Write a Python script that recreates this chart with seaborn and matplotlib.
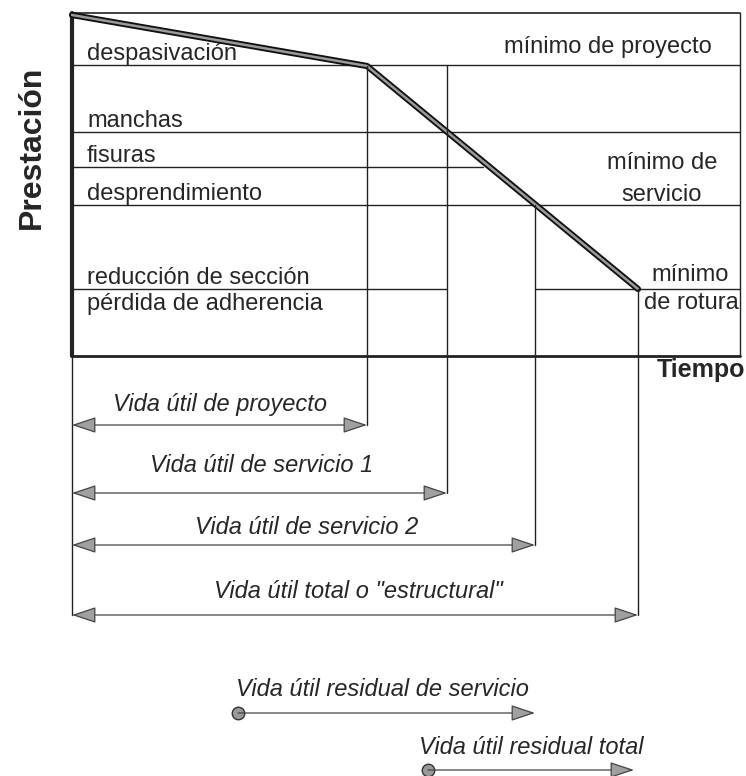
import matplotlib
matplotlib.use('Agg')
import matplotlib.pyplot as plt
import seaborn as sns

sns.set_style('white')
plt.rcParams['font.family'] = ['Liberation Sans', 'DejaVu Sans']

# curva de prestación (tiempo, prestación) en unidades del dibujo
curva_t = [72, 367, 638]
curva_p = [15, 66, 289]

# niveles de deterioro
niveles = ['despasivación', 'manchas', 'fisuras', 'desprendimiento', 'reducción de sección']
niveles_y = [65, 132, 167, 205, 289]
niveles_fin = [740, 740, 483, 740, 447]

# vidas útiles
vidas = ['Vida útil de proyecto', 'Vida útil de servicio 1',
         'Vida útil de servicio 2', 'Vida útil total o "estructural"']
vidas_fin = [367, 447, 535, 638]
vidas_inicio_v = [66, 65, 205, 289]
vidas_y = [425, 493, 545, 615]
vidas_txt_x = [220, 262, 307, 358]
vidas_txt_y = [405, 466, 527, 591]

# vidas residuales
residual = ['Vida útil residual de servicio', 'Vida útil residual total']
residual_ini = [238, 428]
residual_fin = [535, 634]
residual_y = [713, 770]
residual_txt_x = [382, 531]
residual_txt_y = [689, 747]

X0, X1, Y0, Y1 = 72, 740, 13, 356
lc = '#222222'

fig = plt.figure(figsize=(7.46, 7.76), dpi=100)
ax = fig.add_axes([0, 0, 1, 1])
ax.set_xlim(0, 746)
ax.set_ylim(776, 0)
ax.axis('off')

# marco
ax.plot([X0, X1], [Y0, Y0], color=lc, lw=1.2)
ax.plot([X0, X1], [Y1, Y1], color=lc, lw=2)
ax.plot([X1, X1], [Y0, Y1], color=lc, lw=1)
ax.plot([X0, X0], [Y0, Y1], color=lc, lw=3)
ax.plot([X0, X0], [Y1, vidas_y[-1]], color=lc, lw=1)

# niveles
for n, y, xf in zip(niveles, niveles_y, niveles_fin):
    ax.plot([X0, xf], [y, y], color=lc, lw=1)
    ax.text(87, y - 5, n, fontsize=17, va='baseline', ha='left')
ax.plot([535, X1], [289, 289], color=lc, lw=1)
ax.text(87, 293, 'pérdida de adherencia', fontsize=17, va='top', ha='left')

# mínimos
ax.text(712, 47, 'mínimo de proyecto', fontsize=17, ha='right', va='center')
ax.text(662, 163, 'mínimo de', fontsize=17, ha='center', va='center')
ax.text(662, 195, 'servicio', fontsize=17, ha='center', va='center')
ax.text(690, 275, 'mínimo', fontsize=17, ha='center', va='center')
ax.text(691, 303, 'de rotura', fontsize=17, ha='center', va='center')

# curva
sns.lineplot(x=curva_t, y=curva_p, ax=ax, color='#111111', lw=4.5, sort=False)
sns.lineplot(x=curva_t, y=curva_p, ax=ax, color='#9a9a9a', lw=1.8, sort=False)

flecha = dict(mutation_scale=10, shrinkA=0, shrinkB=0,
              fc='#a0a0a0', ec='#444444', lw=0.9)

# flechas de vida útil
for lab, xf, yv, y, tx, ty in zip(vidas, vidas_fin, vidas_inicio_v, vidas_y,
                                  vidas_txt_x, vidas_txt_y):
    ax.plot([xf, xf], [yv, y], color=lc, lw=1)
    ax.annotate('', xy=(X0, y), xytext=(xf, y),
                arrowprops=dict(arrowstyle='<|-|>,head_length=1.5,head_width=0.5', **flecha))
    ax.text(tx, ty, lab, fontsize=17, style='italic', ha='center', va='center')

for lab, x0, x1, y, tx, ty in zip(residual, residual_ini, residual_fin, residual_y,
                                  residual_txt_x, residual_txt_y):
    ax.annotate('', xy=(x1, y), xytext=(x0, y),
                arrowprops=dict(arrowstyle='-|>,head_length=1.5,head_width=0.5', **flecha))
    ax.plot([x0], [y], marker='o', ms=9, mfc='#999999', mec='#333333', mew=1)
    ax.text(tx, ty, lab, fontsize=17, style='italic', ha='center', va='center')

# ejes
ax.text(32, 147, 'Prestación', fontsize=23, fontweight='bold', rotation=90,
        ha='center', va='center')
ax.text(745, 370, 'Tiempo', fontsize=18, fontweight='bold', ha='right', va='center')

fig.savefig('out.png', dpi=100)
